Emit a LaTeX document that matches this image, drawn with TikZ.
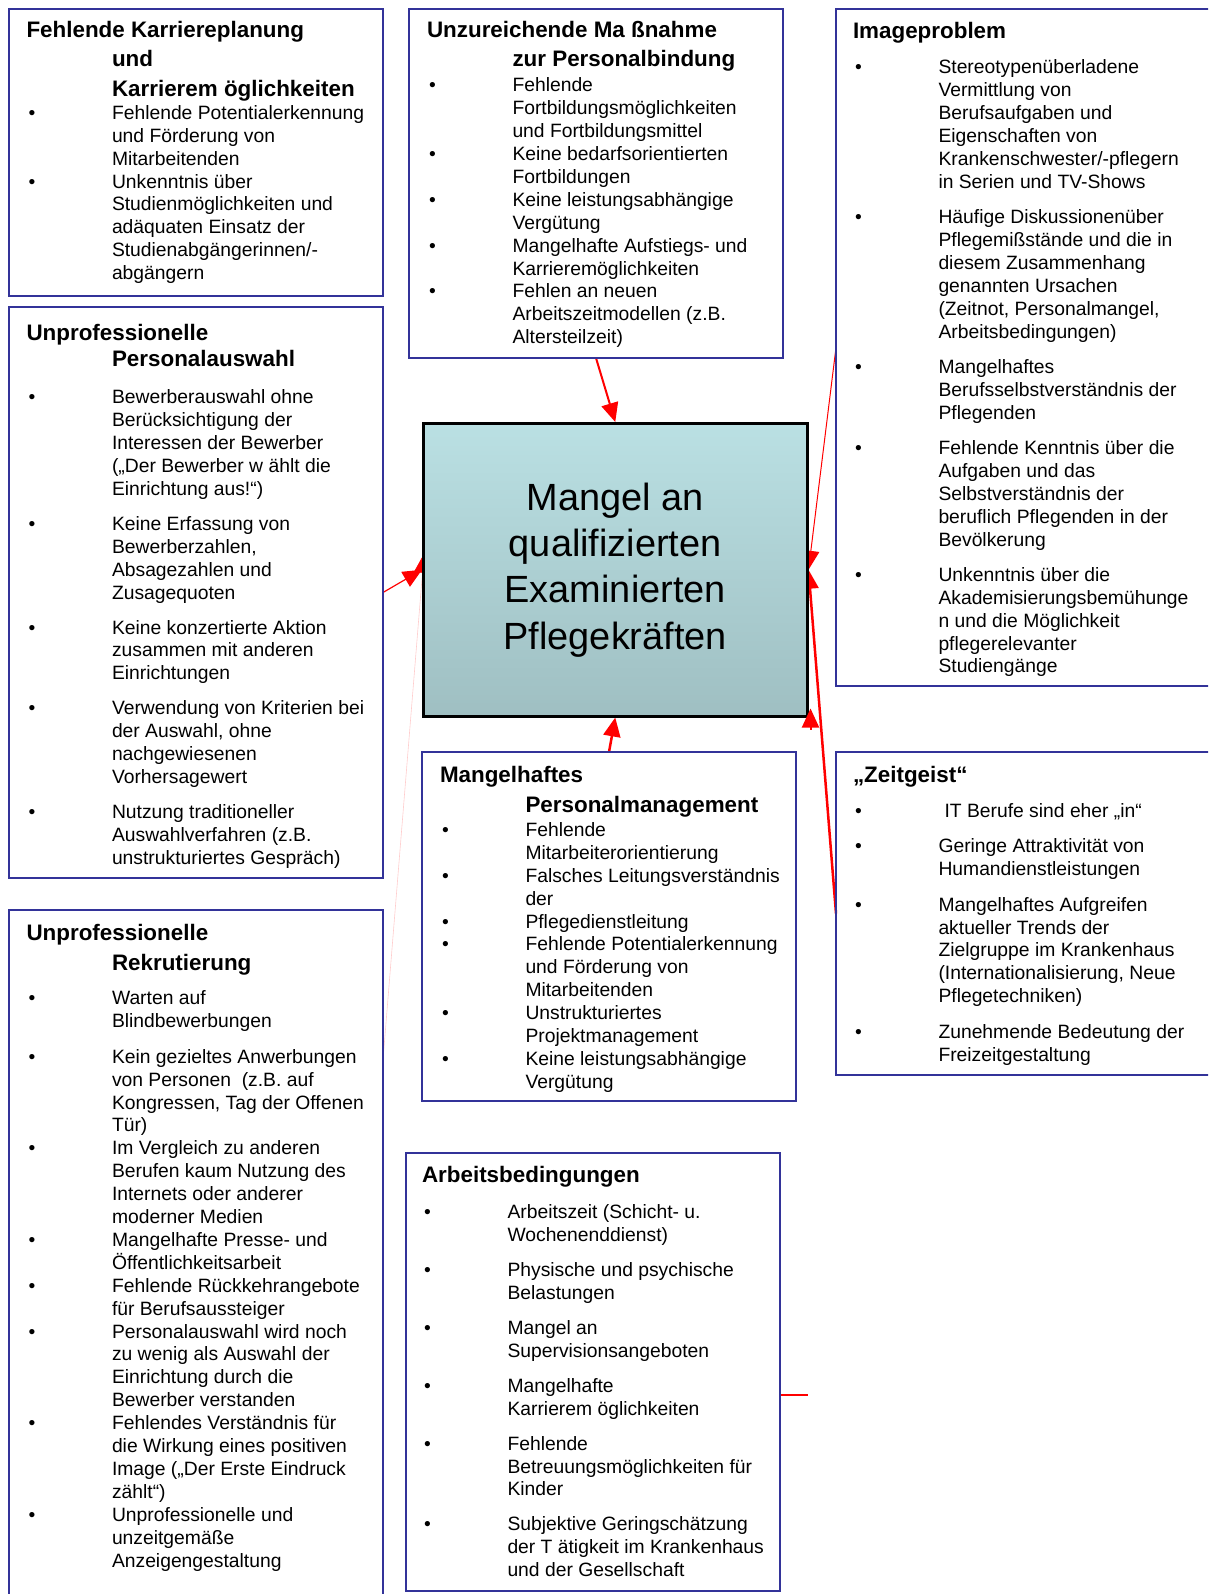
\documentclass[tikz,border=0pt]{standalone}
\usepackage{fontspec}
\setmainfont{Liberation Sans}
\usetikzlibrary{arrows.meta,calc}

\definecolor{boxblue}{RGB}{51,51,153}
\definecolor{mangeltop}{RGB}{186,224,227}
\definecolor{mangelbot}{RGB}{159,191,194}

\pgfdeclarelayer{background}
\pgfsetlayers{background,main}

% box heading, continuation lines hang under the items
\newcommand{\boxhead}[2][29.5]{{\fontsize{22.4}{#1}\selectfont\bfseries
  \hangindent=85.5pt\hangafter=1\noindent #2\par}}
% one bullet item
\newcommand{\itm}[1]{{\hangindent=85.5pt\hangafter=1\noindent
  \makebox[85.5pt][l]{\hspace{2pt}\textbullet}#1\par}}
\newcommand{\bodyfont}{\fontsize{19.3}{22.9}\selectfont\rightskip=0pt plus 1fil}

\begin{document}
\begin{tikzpicture}[x=1pt,y=-1pt,
    cause/.style={draw=boxblue,line width=2.5pt,rectangle,anchor=north west,
      inner sep=0pt,outer sep=0pt},
    causetext/.style={anchor=base west,inner sep=0pt,outer sep=0pt},
    effect/.style={draw=black,line width=2.5pt,rectangle,anchor=north west,
      top color=mangeltop,bottom color=mangelbot,align=center,
      font=\fontsize{37.9}{46.3}\selectfont,
      minimum width=384pt,minimum height=293pt},
    link/.style={red,line width=2pt,-{Triangle[length=19pt,width=17pt]}},
    faint/.style={red!20,line width=0.6pt,-{Triangle[length=19pt,width=17pt,color=red]}}]
  \useasboundingbox (0,0) rectangle (1208,1594);
  \clip (0,0) rectangle (1208,1594);

  % cause boxes
  \node[cause,minimum width=374pt,minimum height=287pt] (karriere) at (9,9) {};
  \node[cause,minimum width=374pt,minimum height=349pt] (bindung) at (409,9) {};
  \node[cause,minimum width=400pt,minimum height=677pt] (image) at (836,9) {};
  \node[cause,minimum width=374pt,minimum height=571pt] (auswahl) at (9,307) {};
  \node[cause,minimum width=374pt,minimum height=349pt] (management) at (422,752) {};
  \node[cause,minimum width=400pt,minimum height=323pt] (zeitgeist) at (836,752) {};
  \node[cause,minimum width=374pt,minimum height=700pt] (rekrutierung) at (9,910) {};
  \node[cause,minimum width=374pt,minimum height=438pt] (arbeit) at (406,1153) {};

  % effect
  \node[effect] (mangel) at (422,422)
    {Mangel an\\qualifizierten\\Examinierten\\Pflegekräften};

  % texts
  \node[causetext] (karriere-t) at ([shift={(17.5,28.5)}]karriere.north west)
  {\parbox[t]{400pt}{\bodyfont
    \boxhead{Fehlende Karriereplanung\\und\\Karrierem öglichkeiten}
    \itm{Fehlende Potentialerkennung\\und Förderung von\\Mitarbeitenden}
    \itm{Unkenntnis über\\Studienmöglichkeiten und\\adäquaten Einsatz der\\Studienabgängerinnen/-\\abgängern}}};

  \node[causetext] (bindung-t) at ([shift={(18,28.5)}]bindung.north west)
  {\parbox[t]{400pt}{\bodyfont
    \boxhead{Unzureichende Ma ßnahme\\zur Personalbindung}
    \vspace{2pt}
    \itm{Fehlende\\Fortbildungsmöglichkeiten\\und Fortbildungsmittel}
    \itm{Keine bedarfsorientierten\\Fortbildungen}
    \itm{Keine leistungsabhängige\\Vergütung}
    \itm{Mangelhafte Aufstiegs- und\\Karrieremöglichkeiten}
    \itm{Fehlen an neuen\\Arbeitszeitmodellen (z.B.\\Altersteilzeit)}}};

  \node[causetext] (image-t) at ([shift={(17,29.5)}]image.north west)
  {\parbox[t]{400pt}{\bodyfont\setlength{\parskip}{12.4pt}
    \boxhead{Imageproblem}
    \itm{Stereotypenüberladene\\Vermittlung von\\Berufsaufgaben und\\Eigenschaften von\\Krankenschwester/-pflegern\\in Serien und TV-Shows}
    \itm{Häufige Diskussionenüber\\Pflegemißstände und die in\\diesem Zusammenhang\\genannten Ursachen\\(Zeitnot, Personalmangel,\\Arbeitsbedingungen)}
    \itm{Mangelhaftes\\Berufsselbstverständnis der\\Pflegenden}
    \itm{Fehlende Kenntnis über die\\Aufgaben und das\\Selbstverständnis der\\beruflich Pflegenden in der\\Bevölkerung}
    \itm{Unkenntnis über die\\Akademisierungsbemühunge\\n und die Möglichkeit\\pflegerelevanter\\Studiengänge}}};

  \node[causetext] (auswahl-t) at ([shift={(17.5,33.5)}]auswahl.north west)
  {\parbox[t]{400pt}{\bodyfont\setlength{\parskip}{12pt}
    \boxhead[25.5]{Unprofessionelle\\Personalauswahl}
    \vspace{3pt}
    \itm{Bewerberauswahl ohne\\Berücksichtigung der\\Interessen der Bewerber\\(„Der Bewerber w ählt die\\Einrichtung aus!“)}
    \itm{Keine Erfassung von\\Bewerberzahlen,\\Absagezahlen und\\Zusagequoten}
    \itm{Keine konzertierte Aktion\\zusammen mit anderen\\Einrichtungen}
    \itm{Verwendung von Kriterien bei\\der Auswahl, ohne\\nachgewiesenen\\Vorhersagewert}
    \itm{Nutzung traditioneller\\Auswahlverfahren (z.B.\\unstrukturiertes Gespräch)}}};

  \node[causetext] (management-t) at ([shift={(18,30)}]management.north west)
  {\parbox[t]{400pt}{\bodyfont
    \boxhead[30.5]{Mangelhaftes\\Personalmanagement}
    \vspace{1pt}
    \itm{Fehlende\\Mitarbeiterorientierung}
    \itm{Falsches Leitungsverständnis\\der}
    \itm{Pflegedienstleitung}
    \itm{Fehlende Potentialerkennung\\und Förderung von\\Mitarbeitenden}
    \itm{Unstrukturiertes\\Projektmanagement}
    \itm{Keine leistungsabhängige\\Vergütung}}};

  \node[causetext] (zeitgeist-t) at ([shift={(17,30)}]zeitgeist.north west)
  {\parbox[t]{400pt}{\bodyfont\setlength{\parskip}{12.5pt}
    \boxhead{„Zeitgeist“}
    \itm{\hspace{6pt}IT Berufe sind eher „in“}
    \itm{Geringe Attraktivität von\\Humandienstleistungen}
    \itm{Mangelhaftes Aufgreifen\\aktueller Trends der\\Zielgruppe im Krankenhaus\\(Internationalisierung, Neue\\Pflegetechniken)}
    \itm{Zunehmende Bedeutung der\\Freizeitgestaltung}}};

  \node[causetext] (rekrutierung-t) at ([shift={(17.5,30.5)}]rekrutierung.north west)
  {\parbox[t]{400pt}{\bodyfont
    \boxhead{Unprofessionelle\\Rekrutierung}
    \vspace{12pt}
    \itm{Warten auf\\Blindbewerbungen}
    \vspace{12.5pt}
    \itm{Kein gezieltes Anwerbungen\\von Personen~ (z.B. auf\\Kongressen, Tag der Offenen\\Tür)}
    \itm{Im Vergleich zu anderen\\Berufen kaum Nutzung des\\Internets oder anderer\\moderner Medien}
    \itm{Mangelhafte Presse- und\\Öffentlichkeitsarbeit}
    \itm{Fehlende Rückkehrangebote\\für Berufsaussteiger}
    \itm{Personalauswahl wird noch\\zu wenig als Auswahl der\\Einrichtung durch die\\Bewerber verstanden}
    \itm{Fehlendes Verständnis für\\die Wirkung eines positiven\\Image („Der Erste Eindruck\\zählt“)}
    \itm{Unprofessionelle und\\unzeitgemäße\\Anzeigengestaltung}}};

  \node[causetext] (arbeit-t) at ([shift={(16,29.5)}]arbeit.north west)
  {\parbox[t]{400pt}{\bodyfont\setlength{\parskip}{12pt}
    \boxhead{Arbeitsbedingungen}
    \vspace{1.5pt}
    \itm{Arbeitszeit (Schicht- u.\\Wochenenddienst)}
    \itm{Physische und psychische\\Belastungen}
    \itm{Mangel an\\Supervisionsangeboten}
    \itm{Mangelhafte\\Karrierem öglichkeiten}
    \itm{Fehlende\\Betreuungsmöglichkeiten für\\Kinder}
    \itm{Subjektive Geringschätzung\\der T ätigkeit im Krankenhaus\\und der Gesellschaft}}};

  % tip on the lower right corner
  \draw[link] ($(mangel.south east)+(2,12)$) -- ($(mangel.south east)+(2,-9)$);

  % connectors
  \begin{pgfonlayer}{background}
    \draw[link] (bindung.south) -- (mangel.north);
    \draw[link,line width=2.5pt] (management.north) -- (mangel.south);
    \draw[link,line width=1.2pt] (auswahl.east) -- (mangel.west);
    \draw[faint] ($(rekrutierung.north east)+(0,150)$) -- ($(mangel.west)+(2,-16)$);
    \draw[link,line width=1pt] (image.west) -- (mangel.east);
    \draw[link,line width=2.5pt] (zeitgeist.west) -- (mangel.east);
    \coordinate (stubend) at ($(arbeit.east)+(28,23)$);
    \draw[red,line width=2pt] ($(arbeit.east)+(0,23)$) -- (stubend);
  \end{pgfonlayer}
\end{tikzpicture}
\end{document}
